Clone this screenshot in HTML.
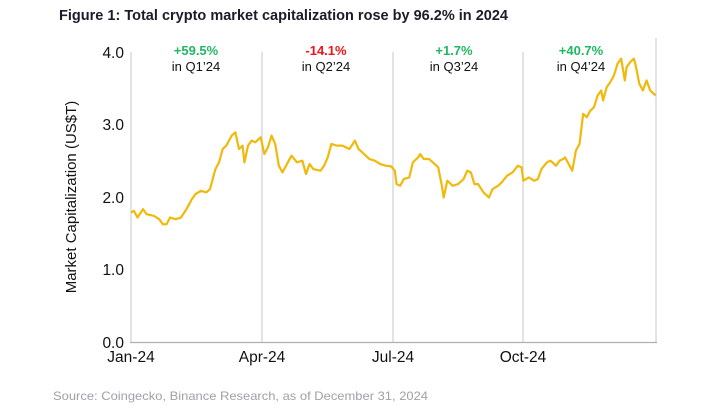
<!DOCTYPE html>
<html><head><meta charset="utf-8"><style>
html,body{margin:0;padding:0;background:#fff;}
svg{display:block;font-family:"Liberation Sans",Arial,sans-serif;}
</style></head><body>
<svg width="707" height="414" viewBox="0 0 707 414" xmlns="http://www.w3.org/2000/svg">
<rect width="707" height="414" fill="#fff"/>
<text x="59" y="20" font-size="14.5" font-weight="bold" fill="#1b1b2a" textLength="449" lengthAdjust="spacingAndGlyphs">Figure 1: Total crypto market capitalization rose by 96.2% in 2024</text>
<g stroke="#d0d0d0" stroke-width="1.2">
<line x1="131" y1="52" x2="131" y2="342"/>
<line x1="262" y1="52" x2="262" y2="342"/>
<line x1="393" y1="52" x2="393" y2="342"/>
<line x1="523" y1="52" x2="523" y2="342"/>
<line x1="656" y1="38" x2="656" y2="342"/>
</g>
<line x1="130" y1="342.5" x2="657" y2="342.5" stroke="#b0b0b0" stroke-width="1.2"/>
<g font-size="15.5" fill="#111" text-anchor="end">
<text x="124" y="58">4.0</text>
<text x="124" y="130">3.0</text>
<text x="124" y="203">2.0</text>
<text x="124" y="275">1.0</text>
<text x="124" y="348">0.0</text>
</g>
<g font-size="15.5" fill="#111" text-anchor="middle">
<text x="131" y="362">Jan-24</text>
<text x="262" y="362">Apr-24</text>
<text x="393" y="362">Jul-24</text>
<text x="523" y="362">Oct-24</text>
</g>
<text transform="translate(76,197) rotate(-90)" font-size="15" fill="#111" text-anchor="middle">Market Capitalization (US$T)</text>
<g font-size="13" text-anchor="middle">
<text x="196" y="55" fill="#1fb862" font-weight="bold">+59.5%</text>
<text x="196" y="71" fill="#111">in Q1’24</text>
<text x="326" y="55" fill="#f0121b" font-weight="bold">-14.1%</text>
<text x="326" y="71" fill="#111">in Q2’24</text>
<text x="454" y="55" fill="#1fb862" font-weight="bold">+1.7%</text>
<text x="454" y="71" fill="#111">in Q3’24</text>
<text x="581" y="55" fill="#1fb862" font-weight="bold">+40.7%</text>
<text x="581" y="71" fill="#111">in Q4’24</text>
</g>
<g transform="translate(131,52) scale(0.3623,0.3344) translate(-87,-70)">
<polyline fill="none" stroke="#f0b90b" stroke-width="2.2" vector-effect="non-scaling-stroke" stroke-linejoin="round" points="87,550 95,545 105,565 120,540 130,555 150,560 165,570 175,585 185,585 195,565 210,570 225,565 240,540 255,510 265,495 280,485 295,490 305,480 320,420 330,400 340,360 350,350 365,320 375,310 385,360 395,350 400,400 410,350 420,335 430,340 440,330 445,325 455,375 465,355 475,320 485,345 495,410 505,430 515,410 530,380 545,400 560,395 570,435 580,405 590,420 610,425 620,410 630,385 640,345 655,350 670,350 690,360 705,335 715,360 730,375 745,390 760,395 775,405 790,410 805,412 815,425 820,465 830,470 840,450 855,445 865,400 880,385 885,375 895,390 910,390 920,400 935,415 945,470 950,505 960,455 975,470 990,465 1005,450 1015,425 1025,430 1035,465 1045,465 1060,490 1075,505 1085,480 1100,470 1110,460 1125,440 1140,430 1155,410 1165,415 1170,455 1185,445 1200,455 1210,450 1220,420 1235,400 1245,395 1260,410 1270,395 1280,390 1285,385 1295,405 1305,425 1315,365 1325,345 1330,300 1335,255 1345,265 1355,245 1365,235 1375,200 1385,185 1390,215 1400,175 1410,160 1420,140 1430,105 1440,90 1450,155 1455,115 1465,100 1470,95 1475,90 1480,110 1490,165 1500,185 1505,170 1510,155 1520,185 1530,195 1535,200"/>
</g>
<text x="53" y="400" font-size="12" fill="#a0a0a8" textLength="375" lengthAdjust="spacingAndGlyphs">Source: Coingecko, Binance Research, as of December 31, 2024</text>
</svg>
</body></html>
